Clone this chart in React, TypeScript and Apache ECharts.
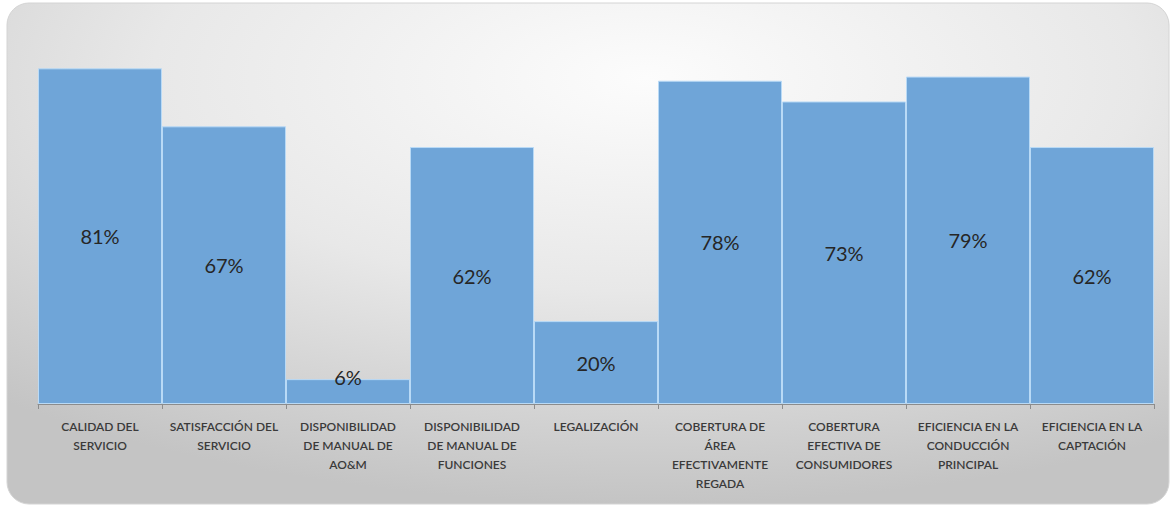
import React, { useEffect, useRef } from "react";
import * as echarts from "echarts";

const categories = [
  "CALIDAD DEL\nSERVICIO",
  "SATISFACCIÓN DEL\nSERVICIO",
  "DISPONIBILIDAD\nDE MANUAL DE\nAO&M",
  "DISPONIBILIDAD\nDE MANUAL DE\nFUNCIONES",
  "LEGALIZACIÓN",
  "COBERTURA DE\nÁREA\nEFECTIVAMENTE\nREGADA",
  "COBERTURA\nEFECTIVA DE\nCONSUMIDORES",
  "EFICIENCIA EN LA\nCONDUCCIÓN\nPRINCIPAL",
  "EFICIENCIA EN LA\nCAPTACIÓN",
];
const values = [0.81, 0.67, 0.06, 0.62, 0.2, 0.78, 0.73, 0.79, 0.62];

export default function App() {
  const ref = useRef<HTMLDivElement>(null);
  useEffect(() => {
    document.body.style.margin = "0";
    const chart = echarts.init(ref.current!, null, { renderer: "svg" });
    chart.setOption({
      animation: false,
      graphic: [
        {
          type: "rect",
          z: -10,
          silent: true,
          shape: { x: 7, y: 3, width: 1162, height: 501, r: 22 },
          style: {
            fill: new echarts.graphic.RadialGradient(0.55, 0.15, 0.85, [
              { offset: 0, color: "#fcfcfc" },
              { offset: 0.5, color: "#e8e8e8" },
              { offset: 1, color: "#c4c4c4" },
            ]),
            stroke: "#d4d4d4",
            lineWidth: 1,
          },
        },
      ],
      grid: { left: 38, right: 17, top: 31, bottom: 102, containLabel: false },
      xAxis: {
        type: "category",
        data: categories,
        axisLine: { lineStyle: { color: "#8c8c8c", width: 1 } },
        axisTick: { show: true, length: 5, lineStyle: { color: "#8c8c8c" } },
        axisLabel: {
          interval: 0,
          margin: 13,
          fontFamily: "Lato",
          fontSize: 12,
          fontWeight: 600,
          lineHeight: 19,
          color: "#3a3a3a",
          align: "center",
        },
      },
      yAxis: {
        type: "value",
        min: 0,
        max: 0.9,
        show: false,
        splitLine: { show: false },
      },
      series: [
        {
          type: "bar",
          data: values.map((v) =>
            v < 0.1
              ? { value: v, label: { position: "top", distance: -8 } }
              : { value: v }
          ),
          barCategoryGap: 0,
          itemStyle: { color: "#6fa5d8", borderColor: "#b9daf6", borderWidth: 1 },
          label: {
            show: true,
            position: "inside",
            fontFamily: "Lato",
            fontSize: 20,
            color: "#262626",
            formatter: (p: any) => Math.round(p.value * 100) + "%",
          },
        },
      ],
    });
    return () => chart.dispose();
  }, []);
  return <div ref={ref} style={{ width: 1171, height: 506 }} />;
}
